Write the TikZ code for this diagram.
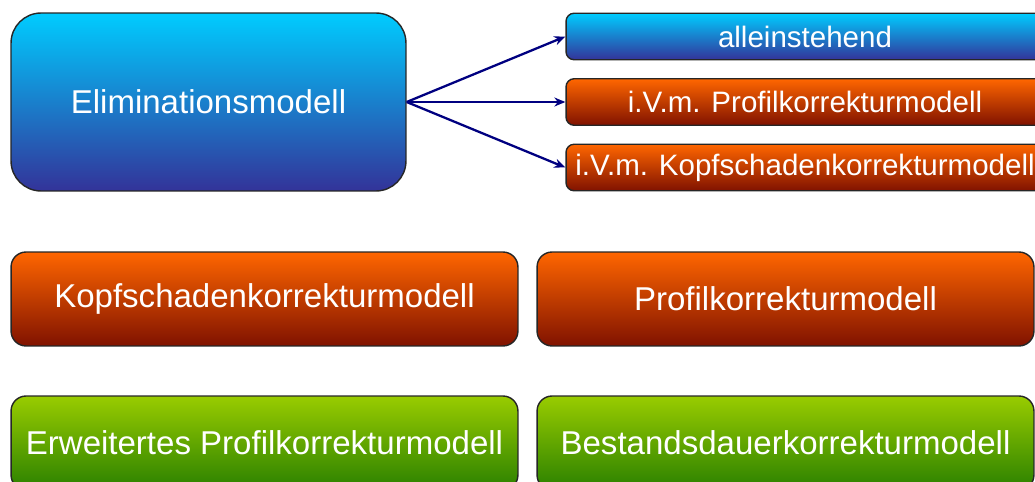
\documentclass[tikz,border=0pt]{standalone}
\usepackage{fontspec}
\setmainfont{Liberation Sans}
\definecolor{elimHell}{HTML}{00CCFF}
\definecolor{elimDunkel}{HTML}{333399}
\definecolor{korrHell}{HTML}{FF6600}
\definecolor{korrDunkel}{HTML}{801200}
\definecolor{erwHell}{HTML}{99CC00}
\definecolor{erwDunkel}{HTML}{2A8000}
\definecolor{pfeilBlau}{HTML}{000080}
\usetikzlibrary{
	arrows.meta,
	positioning
}
\tikzset{
	kastenModell/.style={
		draw=black!85,
		line width=0.8pt,
		text=white,
		align=center,
		inner sep=0pt,
		rounded corners=0.3cm,
		minimum height=1.88cm,
		font=\fontsize{18.8}{22}\selectfont
	},
	kastenBlau/.style={
		kastenModell,
		top color=elimHell,
		bottom color=elimDunkel
	},
	kastenOrange/.style={
		kastenModell,
		top color=korrHell,
		bottom color=korrDunkel
	},
	kastenGruen/.style={
		kastenModell,
		top color=erwHell,
		bottom color=erwDunkel
	},
	kastenKlein/.style={
		rounded corners=0.16cm,
		minimum width=9.56cm,
		minimum height=0.93cm,
		font=\fontsize{16.8}{20}\selectfont
	},
	pfeilModell/.style={
		-{Stealth[length=2.2mm,width=1.8mm]},
		line width=1.3pt,
		draw=pfeilBlau
	}
}

\begin{document}
\begin{tikzpicture}[x=0.02cm, y=0.02cm]
		\useasboundingbox (0,0) rectangle (1035,481);
		\clip (0,0) rectangle (1035,481);
		% oberer Teil
		\node[kastenBlau, rounded corners=0.6cm, minimum width=7.9cm, minimum height=3.56cm] (elimModell) at (208.5,379) {Eliminationsmodell};
		\node[kastenBlau, kastenKlein] (allein) at (805,444.5) {alleinstehend};
		\node[kastenOrange, kastenKlein] (ivmProfil) at (805,379) {i.V.m. Profilkorrekturmodell};
		\node[kastenOrange, kastenKlein] (ivmKopf) at (805,313.5) {i.V.m. Kopfschadenkorrekturmodell};
		\draw[pfeilModell] (elimModell.east) -- (allein.west);
		\draw[pfeilModell] (elimModell.east) -- (ivmProfil.west);
		\draw[pfeilModell] (elimModell.east) -- (ivmKopf.west);
		% untere Reihen
		\node[kastenOrange, minimum width=10.14cm] (kopfModell) at (264.5,182) {Kopfschadenkorrekturmodell};
		\node[kastenOrange, minimum width=9.94cm] (profilModell) at (785.5,182) {Profilkorrekturmodell};
		\node[kastenGruen, minimum width=10.14cm] (erwModell) at (264.5,38) {Erweitertes Profilkorrekturmodell};
		\node[kastenGruen, minimum width=9.94cm] (dauerModell) at (785.5,38) {Bestandsdauerkorrekturmodell};
	\end{tikzpicture}
\end{document}
